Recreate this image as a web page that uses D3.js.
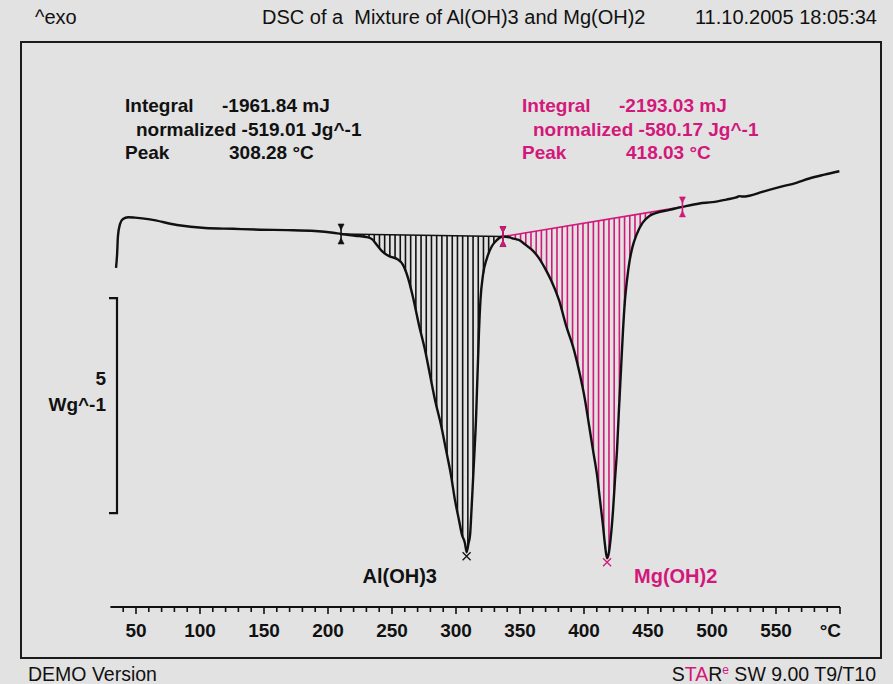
<!DOCTYPE html>
<html>
<head>
<meta charset="utf-8">
<script src="https://cdn.jsdelivr.net/npm/d3@7"></script>
<style>
  body { margin: 0; background: #e2e2e2; }
  svg { display: block; }
  text { font-family: "Liberation Sans", Arial, Helvetica, sans-serif; }
</style>
</head>
<body>
<script>
// DSC curve, temperature in °C and heat flow in W/g
var temps = [34.4, 35.2, 35.9, 37.5, 39.8, 43.8, 49.2, 60.9, 82, 103.9,
  125.8, 146.9, 168, 189.8, 203.9, 210.2, 221.1, 229.7, 234.4, 238.3,
  242.2, 246.1, 250, 253.9, 258.6, 262.5, 266.4, 271.1, 275.8, 279.7,
  283.6, 288.3, 292.2, 296.1, 299.2, 302.3, 304.7, 307, 308.3, 309.8,
  311, 312.1, 313.3, 314.5, 315.6, 316.4, 316.8, 317.2, 318, 319.1,
  321.1, 324.2, 328.1, 332, 336.7, 340.6, 345.3, 349.2, 354.7, 359.4,
  364.8, 370.3, 374.2, 380.5, 385.9, 392.2, 396.9, 400.8, 403.9, 407,
  410.2, 412.5, 414.8, 416.4, 418, 419.5, 421.1, 422.7, 424.2, 425.8,
  427.3, 428.9, 430.5, 432, 433.6, 435.5, 437.9, 441, 445.7, 451.1,
  456.6, 466.7, 476.9, 490.2, 500.3, 511.2, 519, 521.4, 523.7, 529.2,
  539.3, 552.6, 565.9, 576, 587.8, 599.5];

var flow = [-0.65, -0.35, 0.09, 0.37, 0.49, 0.53, 0.52, 0.48, 0.35, 0.28,
  0.26, 0.24, 0.23, 0.21, 0.17, 0.14, 0.10, 0.07, 0.02, -0.12,
  -0.26, -0.35, -0.40, -0.44, -0.58, -0.88, -1.33, -1.98, -2.56, -3.14,
  -3.72, -4.30, -4.88, -5.47, -6.05, -6.51, -6.86, -7.05, -7.26, -7.05,
  -6.86, -6.28, -5.58, -4.88, -4.19, -3.49, -3.14, -2.79, -2.09, -1.40,
  -0.81, -0.42, -0.14, 0.00, 0.08, 0.07, 0.03, 0.00, -0.12, -0.23,
  -0.42, -0.70, -0.93, -1.40, -1.98, -2.56, -3.14, -3.72, -4.30, -4.88,
  -5.47, -6.05, -6.63, -7.09, -7.40, -7.26, -6.86, -6.28, -5.58, -4.88,
  -3.95, -3.02, -2.09, -1.40, -0.93, -0.51, -0.16, 0.12, 0.40, 0.56,
  0.63, 0.70, 0.77, 0.85, 0.88, 0.94, 0.99, 1.02, 1.01, 1.03,
  1.12, 1.23, 1.33, 1.43, 1.52, 1.60];

// the two evaluated peaks
var peakNames = ["Al(OH)3", "Mg(OH)2"];
var peakTemps = [308.28, 418.03];
var peakMins = [-7.26, -7.40];
var integrals = ["-1961.84 mJ", "-2193.03 mJ"];
var normalized = ["-519.01 Jg^-1", "-580.17 Jg^-1"];
var peakTexts = ["308.28 °C", "418.03 °C"];
// integration limits (temperature) and baseline values there (W/g)
var limitT = [[210.2, 336.7], [336.7, 476.9]];
var limitV = [[0.14, 0.08], [0.08, 0.77]];

var xLabels = [50, 100, 150, 200, 250, 300, 350, 400, 450, 500, 550];
var scaleBarTop = -1.35, scaleBarSpan = 5;

var width = 893, height = 684;
var pink = "#d2187b";
var colors = ["#111", pink];

var x = d3.scaleLinear().domain([30, 600]).range([110.4, 840]);
var y = d3.scaleLinear().domain([-10, 5]).range([670, 25]);   // 43 px per W/g

var svg = d3.select("body").append("svg")
  .attr("width", width)
  .attr("height", height);

svg.append("rect")
  .attr("width", width).attr("height", height)
  .attr("fill", "#e2e2e2");

// frame
svg.append("rect")
  .attr("x", 21).attr("y", 42)
  .attr("width", 860).attr("height", 616)
  .attr("fill", "none")
  .attr("stroke", "#1b1b1b")
  .attr("stroke-width", 2);

// header
var header = svg.append("g").attr("font-size", 20).attr("fill", "#111");
header.append("text").attr("x", 35).attr("y", 24).text("^exo");
header.append("text").attr("x", 262).attr("y", 24).attr("xml:space", "preserve")
  .text("DSC of a  Mixture of Al(OH)3 and Mg(OH)2");
header.append("text").attr("x", 877).attr("y", 24).attr("text-anchor", "end")
  .text("11.10.2005 18:05:34");

// footer
svg.append("text").attr("x", 28).attr("y", 681).attr("font-size", 19.5)
  .attr("fill", "#111").text("DEMO Version");
var star = svg.append("text").attr("x", 876).attr("y", 681).attr("font-size", 19.5)
  .attr("text-anchor", "end").attr("fill", "#111").attr("xml:space", "preserve");
star.append("tspan").text("S");
star.append("tspan").attr("fill", pink).text("TA");
star.append("tspan").text("R");
star.append("tspan").attr("fill", pink).attr("font-size", 12).attr("dy", -7).text("e");
star.append("tspan").attr("dy", 7).text(" SW 9.00 T9/T10");

// x axis
var minorTicks = d3.range(40, 601, 10);
var axis = svg.append("g").attr("transform", "translate(0,607)");
axis.append("line")
  .attr("x1", x(30)).attr("x2", x(600))
  .attr("stroke", "#111").attr("stroke-width", 2.2);
axis.selectAll("line.tick")
  .data(minorTicks)
  .enter().append("line")
  .attr("class", "tick")
  .attr("x1", function(d) { return x(d); })
  .attr("x2", function(d) { return x(d); })
  .attr("y1", 0)
  .attr("y2", function(d) { return d % 50 === 0 ? 7 : 5; })
  .attr("stroke", "#111").attr("stroke-width", 1.6);
axis.selectAll("text.lbl")
  .data(xLabels)
  .enter().append("text")
  .attr("class", "lbl")
  .attr("x", function(d) { return x(d); })
  .attr("y", 30)
  .attr("text-anchor", "middle")
  .attr("font-size", 19).attr("font-weight", "bold").attr("fill", "#111")
  .text(function(d) { return d; });
axis.append("text")
  .attr("x", x(600) + 1).attr("y", 30)
  .attr("text-anchor", "end")
  .attr("font-size", 19).attr("font-weight", "bold").attr("fill", "#111")
  .text("°C");

// y scale bar
var yb0 = y(scaleBarTop), yb1 = y(scaleBarTop - scaleBarSpan);
svg.append("path")
  .attr("d", "M109," + yb0 + "H117V" + yb1 + "H109")
  .attr("fill", "none").attr("stroke", "#111").attr("stroke-width", 2.2);
svg.append("text").attr("x", 106).attr("y", 385).attr("text-anchor", "end")
  .attr("font-size", 19).attr("font-weight", "bold").attr("fill", "#111").text(scaleBarSpan);
svg.append("text").attr("x", 106).attr("y", 411).attr("text-anchor", "end")
  .attr("font-size", 19).attr("font-weight", "bold").attr("fill", "#111").text("Wg^-1");

// curve data and linear lookup for the hatching
var data = d3.zip(temps, flow).map(function(p) { return { t: p[0], v: p[1] }; });
var bis = d3.bisector(function(d) { return d.t; }).left;
function valueAt(t) {
  var i = bis(data, t);
  if (i <= 0) return data[0].v;
  if (i >= data.length) return data[data.length - 1].v;
  var a = data[i - 1], b = data[i];
  return a.v + (b.v - a.v) * (t - a.t) / (b.t - a.t);
}

// hatching between baseline and curve
limitT.forEach(function(lim, k) {
  var px0 = x(lim[0]), px1 = x(lim[1]);
  var hatch = [];
  for (var px = px0 + 2; px < px1; px += 5.2) {
    var t = x.invert(px);
    var base = limitV[k][0] + (limitV[k][1] - limitV[k][0]) * (t - lim[0]) / (lim[1] - lim[0]);
    var v = valueAt(t);
    if (v < base - 0.01) hatch.push({ t: t, b: base, v: v });
  }
  svg.append("g").selectAll("line")
    .data(hatch)
    .enter().append("line")
    .attr("x1", function(d) { return x(d.t); })
    .attr("x2", function(d) { return x(d.t); })
    .attr("y1", function(d) { return y(d.b); })
    .attr("y2", function(d) { return y(d.v); })
    .attr("stroke", colors[k]).attr("stroke-width", 1.6);
  svg.append("line")
    .attr("x1", px0).attr("x2", px1)
    .attr("y1", y(limitV[k][0])).attr("y2", y(limitV[k][1]))
    .attr("stroke", colors[k]).attr("stroke-width", 1.6);
});

// the DSC curve
var line = d3.line()
  .x(function(d) { return x(d.t); })
  .y(function(d) { return y(d.v); })
  .curve(d3.curveMonotoneX);

svg.append("path")
  .datum(data)
  .attr("d", line)
  .attr("fill", "none")
  .attr("stroke", "#111")
  .attr("stroke-width", 2.4);

// integration limit markers
function limitMark(t, v, c) {
  var px = x(t), py = y(v);
  var g = svg.append("g").attr("fill", c).attr("stroke", c);
  g.append("line").attr("x1", px).attr("x2", px)
    .attr("y1", py - 9).attr("y2", py + 9).attr("stroke-width", 1.6);
  g.append("path").attr("stroke-width", 0.6)
    .attr("d", "M" + (px - 3) + "," + (py - 10) + "L" + (px + 3) + "," + (py - 10) + "L" + px + "," + (py - 4) + "Z" +
               "M" + (px - 3) + "," + (py + 10) + "L" + (px + 3) + "," + (py + 10) + "L" + px + "," + (py + 4) + "Z");
}
limitT.forEach(function(lim, k) {
  limitMark(lim[0], valueAt(lim[0]), colors[k]);
  limitMark(lim[1], valueAt(lim[1]), colors[k]);
});

// peak crosses and names
peakTemps.forEach(function(t, k) {
  var px = x(t), py = y(peakMins[k]) + 4;
  svg.append("path")
    .attr("d", "M" + (px - 4) + "," + (py - 4) + "L" + (px + 4) + "," + (py + 4) +
               "M" + (px - 4) + "," + (py + 4) + "L" + (px + 4) + "," + (py - 4))
    .attr("stroke", colors[k]).attr("stroke-width", 1.3);
});
svg.append("text").attr("x", 437).attr("y", 583).attr("text-anchor", "end")
  .attr("font-size", 20).attr("font-weight", "bold").attr("fill", colors[0]).text(peakNames[0]);
svg.append("text").attr("x", 634).attr("y", 583)
  .attr("font-size", 20).attr("font-weight", "bold").attr("fill", colors[1]).text(peakNames[1]);

// evaluation results
var boxX = [125, 522];
[0, 1].forEach(function(k) {
  var g = svg.append("g").attr("font-size", 19).attr("font-weight", "bold").attr("fill", colors[k]);
  g.append("text").attr("x", boxX[k]).attr("y", 112).text("Integral");
  g.append("text").attr("x", boxX[k] + 97).attr("y", 112).text(integrals[k]);
  g.append("text").attr("x", boxX[k] + 11).attr("y", 135.5).text("normalized " + normalized[k]);
  g.append("text").attr("x", boxX[k]).attr("y", 159).text("Peak");
  g.append("text").attr("x", boxX[k] + 104).attr("y", 159).text(peakTexts[k]);
});
</script>
</body>
</html>
